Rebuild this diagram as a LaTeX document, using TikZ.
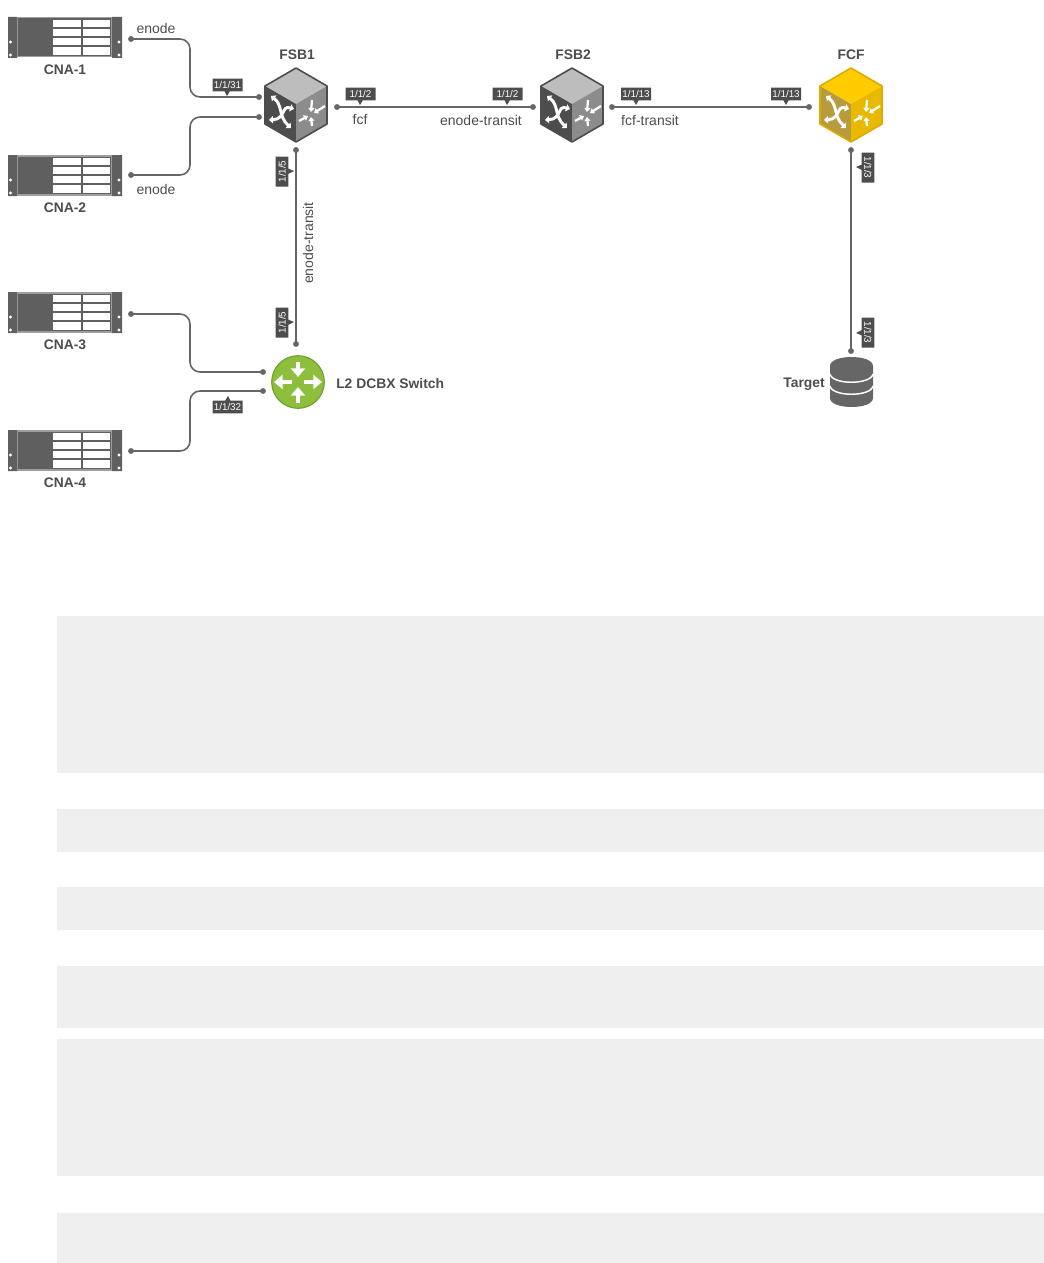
\documentclass[tikz,border=0pt]{standalone}
\usepackage{fontspec}
\setmainfont{Liberation Sans}
\usepackage{xcolor}
\usepackage{tikz}
\usetikzlibrary{arrows.meta}
\usetikzlibrary{calc}
\usetikzlibrary{shapes.callouts}
\definecolor{inkdark}{HTML}{4D4D4D}
\definecolor{linkgray}{HTML}{666666}
\definecolor{blockgray}{HTML}{EFEFEF}
\definecolor{rackgray}{HTML}{5F5F5F}
\definecolor{l2green}{HTML}{8DBE3C}
\definecolor{l2edge}{HTML}{6F9E2C}
\definecolor{fcftop}{HTML}{FFCC00}
\definecolor{fcfleft}{HTML}{B89B3C}
\definecolor{fcfright}{HTML}{E9B800}
\definecolor{fcfedge}{HTML}{DDAA00}
\tikzstyle{link}=[line width=1.2pt,linkgray,rounded corners=7.5pt]
\tikzstyle{portdot}=[circle,fill=linkgray,inner sep=0pt,minimum size=4.4pt]
\tikzstyle{lbl}=[inner sep=0pt,text=inkdark,font=\fontsize{10.5pt}{12pt}\selectfont]
\tikzstyle{devname}=[inner sep=0pt,text=inkdark,font=\bfseries\fontsize{10.4pt}{12pt}\selectfont]
\tikzstyle{porttag}=[rectangle callout,fill=inkdark,text=white,inner sep=0pt,minimum height=9.4pt,minimum width=22.5pt,callout pointer width=4pt,font=\fontsize{7.4pt}{8pt}\selectfont]
\tikzstyle{whitearrow}=[white,line width=1.7pt,-{Triangle[length=3pt,width=4.5pt]}]
\tikzstyle{l2arrow}=[white,line width=3.2pt,-{Triangle[length=6.5pt,width=10.5pt]}]
\tikzset{
  pics/rack/.style={code={
    \fill[black!38] (-57,-20) rectangle (57,20.5);
    \fill[rackgray] (-57,-20) rectangle (-48,21) (47,-20) rectangle (57,21);
    \fill[rackgray] (-47,-18.5) rectangle (46,19);
    \fill[white] (-12,-17) rectangle (45,18);
    \draw[rackgray,line width=.9pt] (-12,-9) -- (45,-9) (-12,0) -- (45,0) (-12,9) -- (45,9) (17,-17) -- (17,18);
    \fill[white] (-54.5,5) circle (1.2pt) (-54.5,18) circle (1.2pt) (54,5) circle (1.2pt) (54,18) circle (1.2pt);
  }},
  pics/cube/.style n args={4}{code={
    \fill[#1] (0,-36) -- (31,-18) -- (0,0) -- (-31,-18) -- cycle;
    \fill[#2] (-31,-18) -- (0,0) -- (0,38) -- (-31,20) -- cycle;
    \fill[#3] (31,-18) -- (0,0) -- (0,38) -- (31,20) -- cycle;
    \draw[#4,line width=1.2pt,line join=round] (0,-36) -- (31,-18) -- (31,20) -- (0,38) -- (-31,20) -- (-31,-18) -- cycle;
    \draw[whitearrow,line width=2.2pt,{Triangle[length=3pt,width=5.5pt]}-{Triangle[length=3pt,width=5.5pt]}] (-25,-8) .. controls (-13,1) and (-18,12) .. (-5,24);
    \draw[whitearrow,line width=2.2pt,{Triangle[length=3pt,width=5.5pt]}-{Triangle[length=3pt,width=5.5pt]}] (-2,5) .. controls (-15,1) and (-10,15) .. (-27,16);
    \draw[whitearrow] (16,-4) -- (15,8);
    \draw[whitearrow] (29,2) -- (18,9);
    \draw[whitearrow] (3,17) -- (12,12);
    \draw[whitearrow] (16,22) -- (15,13);
  }},
}
\begin{document}
\begin{tikzpicture}[x=.75pt,y=-.75pt]
	\useasboundingbox (0,0) rectangle (1044,1263);
	% shaded blocks under the diagram
	\foreach \ya/\yb in {616/773,809/852,887/930,966/1028,1039/1176,1213/1263}
	  \fill[blockgray] (57,\ya) rectangle (1044,\yb);
	% hosts
	\pic at (65,37) {rack};
	\pic at (65,175) {rack};
	\pic at (65,312) {rack};
	\pic at (65,450) {rack};
	\node[devname] (cna1) at (65,69.5) {CNA-1};
	\node[devname] (cna2) at (65,207.5) {CNA-2};
	\node[devname] (cna3) at (65,344.5) {CNA-3};
	\node[devname] (cna4) at (65,482.5) {CNA-4};
	% switches
	\pic at (296,104) {cube={black!26}{inkdark}{black!45}{inkdark}};
	\pic at (572,104) {cube={black!26}{inkdark}{black!45}{inkdark}};
	\pic at (851,104) {cube={fcftop}{fcfleft}{fcfright}{fcfedge}};
	\node[devname] (fsb1) at (297,54.5) {FSB1};
	\node[devname] (fsb2) at (573,54.5) {FSB2};
	\node[devname] (fcf) at (851,54.5) {FCF};
	% L2 switch
	\node[circle,fill=l2green,draw=l2edge,line width=.8pt,minimum size=39.5pt,inner sep=0pt] (l2) at (298,382) {};
	\draw[l2arrow] (298,362) -- (298,377);
	\draw[l2arrow] (298,403) -- (298,387);
	\draw[l2arrow] (292,382) -- (274,382);
	\draw[l2arrow] (304,382) -- (322,382);
	\node[devname,anchor=west] (l2name) at (336,383.5) {L2 DCBX Switch};
	% target
	\fill[linkgray] (830,366) .. controls (830,354) and (873,354) .. (873,366) -- (873,398) .. controls (873,410) and (830,410) .. (830,398) -- cycle;
	\draw[white,line width=1.1pt] (830,374) .. controls (832,385) and (871,385) .. (873,374);
	\draw[white,line width=1.1pt] (830,386) .. controls (832,397) and (871,397) .. (873,386);
	\node[devname,anchor=east] (target) at (825,384.5) {Target};
	% ports
	\node[portdot] (p1) at (131,39) {};
	\node[portdot] (p2) at (131,175) {};
	\node[portdot] (p3) at (131,314) {};
	\node[portdot] (p4) at (131,451) {};
	\node[portdot] (a1) at (259,97) {};
	\node[portdot] (a2) at (259,117) {};
	\node[portdot] (b1) at (263,372) {};
	\node[portdot] (b2) at (263,391) {};
	\node[portdot] (s1) at (296,150) {};
	\node[portdot] (s2) at (296,344) {};
	\node[portdot] (e1) at (337,107) {};
	\node[portdot] (e2) at (533,107) {};
	\node[portdot] (f1) at (612,107) {};
	\node[portdot] (f2) at (809,107) {};
	\node[portdot] (t1) at (851,150) {};
	\node[portdot] (t2) at (851,351) {};
	\coordinate (bend) at (190,0);
	% links
	\draw[link] (p1.center) -- (p1 -| bend) -- (a1 -| bend) -- (a1.center);
	\draw[link] (p2.center) -- (p2 -| bend) -- (a2 -| bend) -- (a2.center);
	\draw[link] (p3.center) -- (p3 -| bend) -- (b1 -| bend) -- (b1.center);
	\draw[link] (p4.center) -- (p4 -| bend) -- (b2 -| bend) -- (b2.center);
	\draw[link] (s1.center) -- (s2.center);
	\draw[link] (e1.center) -- (e2.center);
	\draw[link] (f1.center) -- (f2.center);
	\draw[link] (t1.center) -- (t2.center);
	% link labels
	\node[lbl] (l1) at (156,28) {enode};
	\node[lbl] (l2b) at (156,189) {enode};
	\node[lbl] (l3) at (360,120) {fcf};
	\node[lbl] (l4) at (481,120) {enode-transit};
	\node[lbl] (l5) at (650,120) {fcf-transit};
	\node[lbl,rotate=90] (l6) at (308,243) {enode-transit};
	% port tags
	\node[porttag,callout absolute pointer={(227,96)}] (g1) at (227.5,85) {1/1/31};
	\node[porttag,callout absolute pointer={(228,396)}] (g2) at (227.5,407) {1/1/32};
	\node[porttag,callout absolute pointer={(360,105)}] (g3) at (360.5,94) {1/1/2};
	\node[porttag,callout absolute pointer={(507,105)}] (g4) at (507.5,94) {1/1/2};
	\node[porttag,callout absolute pointer={(636,105)}] (g5) at (636,94) {1/1/13};
	\node[porttag,callout absolute pointer={(786,105)}] (g6) at (786,94) {1/1/13};
	\node[porttag,rotate=90,callout absolute pointer={(294,171)}] (g7) at (282,171.5) {1/1/5};
	\node[porttag,rotate=90,callout absolute pointer={(294,322)}] (g8) at (282,322.5) {1/1/5};
	\node[porttag,rotate=-90,callout absolute pointer={(856,167)}] (g9) at (868,167.5) {1/1/3};
	\node[porttag,rotate=-90,callout absolute pointer={(856,333)}] (g10) at (868,332.5) {1/1/3};
\end{tikzpicture}
\end{document}
